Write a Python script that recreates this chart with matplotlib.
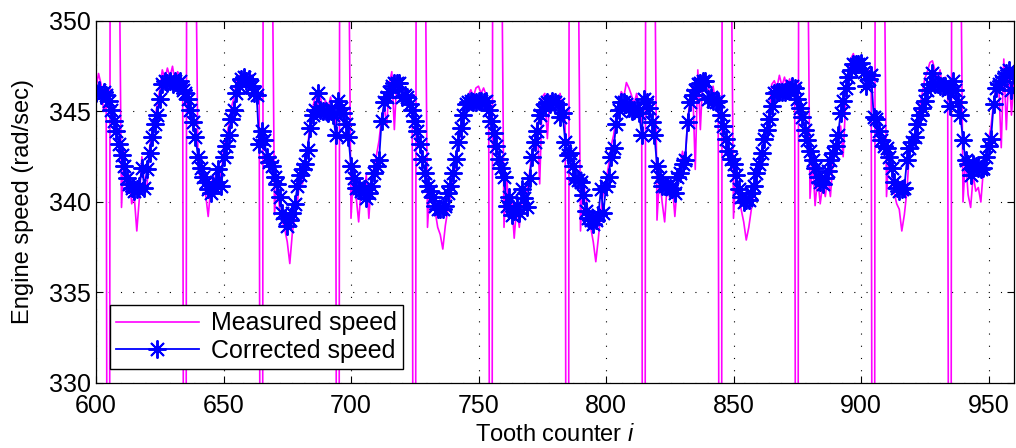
import numpy as np
import matplotlib.pyplot as plt

plt.rcParams['font.family'] = ['Liberation Sans', 'DejaVu Sans']
plt.rcParams['mathtext.fontset'] = 'custom'
plt.rcParams['mathtext.it'] = 'Liberation Sans:italic'
plt.rcParams['mathtext.rm'] = 'Liberation Sans'

# tooth index 600..960
tooth = np.arange(600, 961)

# measured speed (rad/sec), spikes around the missing tooth go far off scale
measured = [
    346.3, 347.1, 346.5, 345.0, 345.5, 275.0, 420.0, 385.0, 368.0, 356.0,
    339.7, 342.8, 340.5, 341.5, 339.9, 340.3, 338.4, 340.2, 342.5, 341.0,
    340.9, 343.0, 343.9, 344.5, 345.4, 346.2, 347.3, 346.8, 347.4, 346.9,
    347.5, 346.6, 347.2, 346.9, 346.5, 275.0, 420.0, 385.0, 368.0, 356.0,
    342.0, 341.2, 342.0, 340.4, 339.2, 340.8, 341.5, 340.5, 342.0, 341.2,
    343.0, 343.5, 344.2, 345.2, 345.7, 346.6, 346.9, 347.1, 346.7, 347.1,
    346.7, 347.0, 346.4, 346.2, 345.8, 275.0, 420.0, 385.0, 368.0, 356.0,
    339.3, 341.2, 339.6, 339.0, 338.5, 337.8, 336.6, 338.3, 339.2, 340.0,
    341.3, 341.0, 342.5, 343.0, 344.5, 345.2, 345.9, 345.4, 345.8, 345.1,
    345.6, 345.2, 345.8, 345.0, 344.6, 275.0, 420.0, 385.0, 368.0, 356.0,
    339.1, 341.8, 340.3, 338.9, 340.8, 340.3, 341.5, 339.1, 341.3, 341.9,
    342.6, 343.4, 344.7, 345.3, 344.2, 346.5, 347.2, 344.0, 346.9, 346.5,
    346.1, 346.3, 345.4, 345.8, 345.2, 275.0, 420.0, 385.0, 368.0, 356.0,
    338.6, 341.0, 340.0, 339.5, 338.6, 338.2, 337.4, 338.7, 339.6, 340.3,
    341.2, 342.0, 343.2, 343.8, 345.0, 345.6, 345.9, 346.2, 345.8, 346.3,
    346.4, 346.0, 346.3, 345.9, 345.3, 275.0, 420.0, 385.0, 368.0, 356.0,
    338.6, 341.5, 339.5, 340.2, 338.0, 339.8, 338.6, 340.4, 339.5, 340.6,
    341.6, 342.8, 343.2, 344.4, 341.0, 345.8, 346.0, 343.5, 345.9, 345.6,
    345.8, 345.3, 346.0, 345.0, 344.5, 275.0, 420.0, 385.0, 368.0, 356.0,
    338.4, 341.3, 340.3, 339.5, 338.6, 337.8, 336.7, 338.0, 339.5, 340.6,
    341.2, 342.0, 343.1, 343.7, 344.8, 345.5, 346.1, 345.8, 346.6, 346.3,
    345.9, 345.4, 346.0, 345.2, 344.9, 275.0, 420.0, 385.0, 368.0, 356.0,
    339.0, 341.5, 340.0, 338.9, 341.0, 340.2, 341.0, 339.2, 341.0, 342.0,
    342.8, 342.0, 344.6, 345.6, 346.4, 341.8, 347.3, 344.0, 347.0, 346.5,
    346.4, 345.8, 346.4, 345.5, 345.0, 275.0, 420.0, 385.0, 368.0, 356.0,
    339.1, 342.0, 340.3, 339.6, 338.9, 337.9, 338.6, 339.6, 340.5, 341.2,
    342.0, 342.5, 343.4, 344.1, 345.0, 346.5, 346.7, 346.3, 347.0, 346.4,
    346.9, 346.3, 346.8, 346.2, 345.9, 275.0, 420.0, 385.0, 368.0, 356.0,
    340.2, 342.3, 339.8, 341.4, 339.9, 341.0, 340.3, 341.4, 340.3, 342.2,
    342.8, 343.5, 344.2, 342.5, 345.6, 346.8, 347.9, 348.2, 347.6, 347.9,
    347.4, 347.7, 346.2, 347.3, 346.5, 275.0, 420.0, 385.0, 368.0, 356.0,
    340.3, 342.8, 341.9, 340.5, 339.9, 339.6, 338.4, 339.3, 340.6, 342.8,
    343.2, 343.6, 344.6, 345.3, 346.0, 346.8, 347.2, 347.7, 347.8, 347.3,
    346.8, 347.3, 346.2, 346.9, 346.0, 275.0, 420.0, 385.0, 368.0, 356.0,
    340.0, 342.5, 340.4, 339.7, 341.5, 340.6, 340.8, 340.0, 341.8, 342.5,
    343.4, 344.2, 345.5, 346.4, 346.5, 343.0, 347.9, 344.0, 347.4, 344.8,
    346.8,
]

# corrected speed (rad/sec), one value per tooth
corrected = [
    346.0, 346.2, 345.9, 346.1, 345.9, 345.6, 345.1, 344.5, 343.9, 343.2,
    342.6, 342.0, 341.3, 341.0, 340.8, 340.6, 340.7, 340.9, 341.9, 340.8,
    341.8, 342.7, 343.6, 344.3, 344.8, 345.7, 346.5, 346.7, 346.6, 346.7,
    346.5, 346.7, 346.6, 346.7, 346.2, 346.0, 345.7, 345.1, 344.4, 343.6,
    342.5, 341.9, 341.4, 341.1, 340.7, 340.5, 340.9, 341.1, 341.8, 340.9,
    342.5, 343.1, 343.7, 344.6, 345.1, 346.0, 346.4, 346.8, 346.9, 346.7,
    346.8, 346.4, 346.0, 345.9, 343.2, 343.9, 343.4, 342.5, 342.2, 342.0,
    341.4, 341.0, 340.3, 339.4, 339.1, 338.7, 339.0, 339.4, 339.9, 340.9,
    341.5, 341.8, 342.1, 342.9, 344.1, 344.8, 345.1, 346.0, 345.1, 345.0,
    345.0, 344.9, 345.0, 344.8, 343.7, 345.6, 345.2, 344.9, 344.3, 343.6,
    342.0, 341.3, 340.8, 340.8, 340.6, 340.7, 340.2, 340.5, 340.9, 341.6,
    342.0, 342.3, 344.5, 345.5, 345.8, 346.1, 346.4, 346.6, 346.6, 346.6,
    345.8, 345.9, 345.8, 345.4, 345.1, 344.5, 343.9, 343.2, 342.4, 341.6,
    340.9, 340.6, 340.3, 339.8, 339.6, 339.6, 339.6, 339.8, 340.5, 340.9,
    341.6, 342.4, 343.3, 344.1, 344.8, 345.4, 345.5, 345.6, 345.5, 345.5,
    345.6, 345.6, 345.5, 345.6, 345.1, 344.5, 343.8, 343.1, 342.4, 341.9,
    341.4, 339.8, 340.3, 339.3, 339.5, 339.8, 339.4, 340.7, 340.2, 339.7,
    341.3, 342.5, 343.3, 343.9, 344.8, 345.1, 345.4, 345.5, 345.4, 345.6,
    345.5, 345.4, 344.7, 344.9, 343.3, 342.6, 342.7, 342.0, 341.3, 341.2,
    341.1, 340.4, 339.5, 339.1, 339.0, 338.8, 339.0, 339.3, 340.7, 339.4,
    340.9, 341.4, 342.5, 343.0, 344.3, 345.1, 345.5, 345.5, 345.4, 345.2,
    345.0, 345.1, 345.2, 344.9, 343.7, 345.7, 345.5, 345.2, 344.4, 343.7,
    342.0, 341.4, 340.9, 340.9, 340.9, 340.8, 340.7, 340.5, 341.4, 341.6,
    342.1, 342.3, 344.4, 345.5, 345.9, 346.2, 346.5, 346.6, 346.7, 346.7,
    345.7, 345.8, 345.6, 345.5, 345.6, 344.8, 344.2, 343.5, 342.8, 342.4,
    342.1, 341.5, 340.7, 340.3, 340.0, 340.1, 340.1, 340.5, 340.9, 341.6,
    342.1, 342.7, 343.5, 344.0, 344.6, 345.3, 346.0, 346.1, 346.1, 346.1,
    346.1, 346.2, 346.2, 346.4, 346.3, 345.7, 345.2, 344.7, 344.0, 343.4,
    342.8, 342.3, 341.9, 341.4, 341.1, 341.0, 341.3, 341.7, 342.3, 342.7,
    343.1, 343.7, 344.9, 345.6, 346.3, 346.9, 347.3, 347.6, 347.6, 347.6,
    347.7, 347.2, 346.4, 346.8, 347.0, 344.7, 344.6, 343.9, 343.4, 343.1,
    343.0, 342.5, 341.9, 341.1, 340.8, 340.6, 340.7, 340.8, 342.3, 343.0,
    343.3, 343.6, 344.3, 344.8, 345.2, 345.6, 346.2, 346.5, 347.1, 346.5,
    346.5, 346.4, 346.4, 346.4, 346.2, 345.3, 346.7, 346.2, 345.5, 344.8,
    343.4, 342.3, 342.1, 341.5, 342.1, 342.0, 341.9, 341.8, 341.9, 342.5,
    343.1, 343.5, 345.4, 346.3, 346.5, 346.7, 346.9, 347.1, 347.3, 346.2,
    347.0,
]

fig = plt.figure(figsize=(10.16, 4.48), dpi=100)
ax = fig.add_axes([96 / 1016, 65 / 448, 918 / 1016, 362 / 448])

ax.plot(tooth, measured, color=(1, 0, 1), lw=1.2, label='Measured speed')
ax.plot(tooth, corrected, color=(0, 0, 1), lw=1.3, marker=(8, 2, 0),
        ms=13, mew=1.4, label='Corrected speed')

ax.set_xlim(600, 960)
ax.set_ylim(330, 350)
ax.set_xticks(np.arange(600, 951, 50))
ax.set_yticks(np.arange(330, 351, 5))
ax.grid(True, color='black', linestyle=(0, (1, 10)), linewidth=0.8)
ax.tick_params(direction='in', top=True, right=True, labelsize=18,
               length=5, width=0.8)
ax.tick_params(axis='x', pad=8)
for s in ax.spines.values():
    s.set_linewidth(0.9)

ax.set_xlabel('Tooth counter $i$', fontsize=17, labelpad=4)
ax.set_ylabel('Engine speed (rad/sec)', fontsize=17, labelpad=11)

leg = ax.legend(loc='lower left', fontsize=18, fancybox=False,
                edgecolor='black', framealpha=1, handlelength=3.3,
                borderpad=0.25, labelspacing=0.15, borderaxespad=0.55,
                handletextpad=0.5)
leg.get_frame().set_linewidth(1.0)

fig.savefig('out.png', dpi=100)
